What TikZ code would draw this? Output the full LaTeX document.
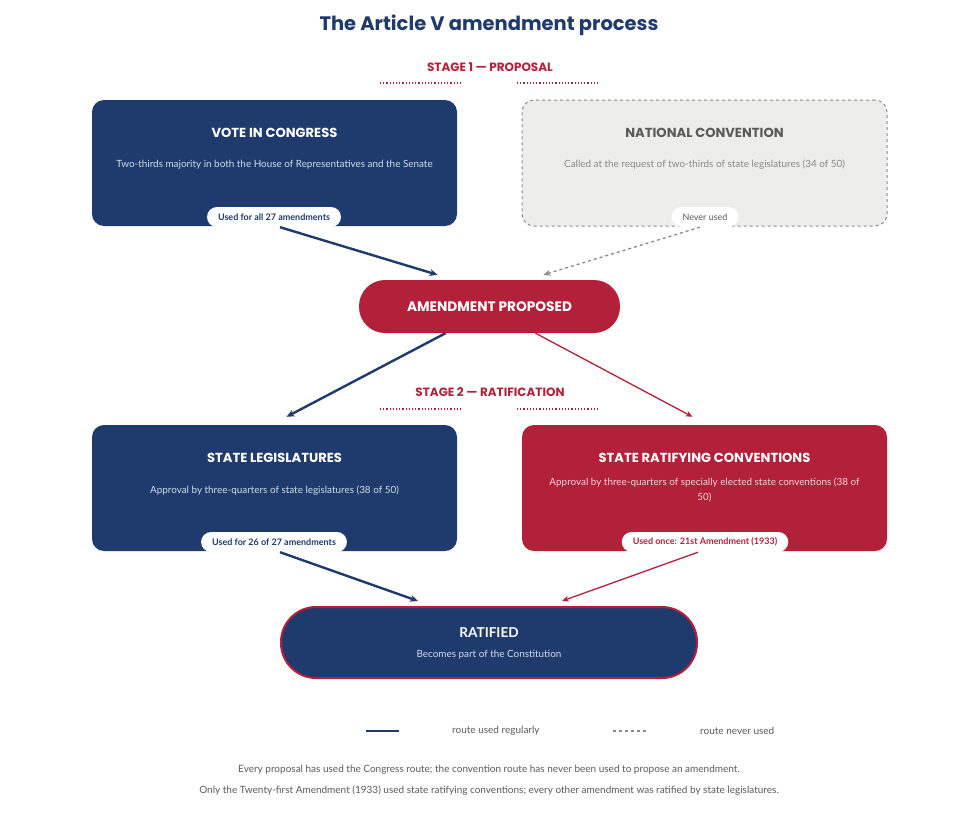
\documentclass[tikz,border=0pt]{standalone}
\usepackage{fontspec}
\setmainfont{Lato}
\newfontfamily\popp{Poppins}
\usetikzlibrary{arrows.meta}
\definecolor{navy}{HTML}{1F3A6D}
\definecolor{crim}{HTML}{B3203A}
\definecolor{paleblue}{HTML}{D3DBEA}
\definecolor{palered}{HTML}{F3D5DA}
\definecolor{gbox}{HTML}{EDEDEB}
\definecolor{gline}{HTML}{8A8A8A}
\definecolor{gtext}{HTML}{5A5A5A}
\tikzset{
  card/.style={rectangle, rounded corners=12pt, minimum width=365pt, minimum height=126pt, inner sep=0pt},
  cardtitle/.style={font=\popp\bfseries\fontsize{13.1}{15}\selectfont, inner sep=0pt},
  carddesc/.style={font=\fontsize{9.9}{15}\selectfont, inner sep=0pt, align=center},
  pill/.style={rectangle, rounded corners=10pt, fill=white, minimum height=20pt, inner xsep=11pt, inner ysep=0pt, font=\bfseries\fontsize{9}{11}\selectfont},
  stagelbl/.style={font=\popp\bfseries\fontsize{12}{14}\selectfont, text=crim, inner sep=0pt},
  stageline/.style={crim, line width=1.2pt, dotted},
  navyarrow/.style={navy, line width=2.4pt, -{Stealth[length=8pt,width=7pt]}},
  redarrow/.style={crim, line width=1.3pt, -{Stealth[length=7pt,width=6pt]}},
  grayarrow/.style={gline, line width=1.3pt, dashed, -{Stealth[length=7pt,width=6pt]}},
  foot/.style={font=\fontsize{10}{12}\selectfont, text=gtext, inner sep=0pt},
}
\begin{document}
\begin{tikzpicture}[x=1pt,y=-1pt]
\useasboundingbox (0,0) rectangle (979,812);
% title
\node[font=\popp\bfseries\fontsize{19.5}{23}\selectfont, text=navy, inner sep=0pt] (title) at (489,25) {The Article V amendment process};
% stage 1
\node[stagelbl] (s1) at (490,67) {STAGE 1 — PROPOSAL};
\coordinate (s1a) at (380,83); \coordinate (s1b) at (463,83);
\coordinate (s1c) at (517,83); \coordinate (s1d) at (600,83);
\draw[stageline] (s1a) -- (s1b);
\draw[stageline] (s1c) -- (s1d);
% congress
\node[card, fill=navy] (cong) at (274.5,163) {};
\node[cardtitle, text=white] (congT) at (274.5,133) {VOTE IN CONGRESS};
\node[carddesc, text=paleblue] (congD) at (274.5,165) {Two-thirds majority in both the House of Representatives and the Senate};
\node[pill, text=navy] (congP) at (274,217) {Used for all 27 amendments};
% convention
\node[card, fill=gbox, draw=gline, dashed, line width=1pt] (conv) at (704.5,163) {};
\node[cardtitle, text=gtext] (convT) at (704.5,133) {NATIONAL CONVENTION};
\node[carddesc, text=gline] (convD) at (704.5,165) {Called at the request of two-thirds of state legislatures (34 of 50)};
\node[pill, text=gtext, font=\fontsize{9}{11}\selectfont] (convP) at (705,217) {Never used};
% proposed
\node[rectangle, rounded corners=26pt, fill=crim, minimum width=261pt, minimum height=53pt, inner sep=0pt, text=white, font=\popp\bfseries\fontsize{13.7}{16}\selectfont] (prop) at (489.5,306.5) {AMENDMENT PROPOSED};
\draw[navyarrow] ([xshift=6pt]congP.south) -- ([shift={(-52,-5)}]prop.north);
\draw[grayarrow] ([xshift=-5pt]convP.south) -- ([shift={(54,-5)}]prop.north);
% stage 2
\node[stagelbl] (s2) at (490,392) {STAGE 2 — RATIFICATION};
\coordinate (s2a) at (380,409); \coordinate (s2b) at (463,409);
\coordinate (s2c) at (517,409); \coordinate (s2d) at (600,409);
\draw[stageline] (s2a) -- (s2b);
\draw[stageline] (s2c) -- (s2d);
% state legislatures
\node[card, fill=navy] (leg) at (274.5,488) {};
\node[cardtitle, text=white] (legT) at (274.5,458) {STATE LEGISLATURES};
\node[carddesc, text=paleblue] (legD) at (274.5,491) {Approval by three-quarters of state legislatures (38 of 50)};
\node[pill, text=navy] (legP) at (274,542) {Used for 26 of 27 amendments};
% state conventions
\node[card, fill=crim] (rc) at (704.5,488) {};
\node[cardtitle, text=white] (rcT) at (704.5,458) {STATE RATIFYING CONVENTIONS};
\node[carddesc, text=palered] (rcD) at (704.5,490) {Approval by three-quarters of specially elected state conventions (38 of\\50)};
\node[pill, text=crim] (rcP) at (705,542) {Used once: 21st Amendment (1933)};
\draw[navyarrow] ([xshift=-44pt]prop.south) -- ([shift={(12,-8)}]leg.north);
\draw[redarrow] ([xshift=46pt]prop.south) -- ([shift={(-12,-8)}]rc.north);
% ratified
\node[rectangle, rounded corners=35pt, fill=navy, draw=crim, line width=2pt, minimum width=416pt, minimum height=71pt, inner sep=0pt] (rat) at (489,642.5) {};
\node[font=\bfseries\fontsize{13.6}{16}\selectfont, text=white, inner sep=0pt] (ratT) at (489,633) {RATIFIED};
\node[carddesc, text=paleblue] (ratD) at (489,655) {Becomes part of the Constitution};
\draw[navyarrow] ([xshift=6pt]legP.south) -- ([shift={(-71,-5)}]rat.north);
\draw[redarrow] ([xshift=-7pt]rcP.south) -- ([shift={(73,-5)}]rat.north);
% legend
\coordinate (l1a) at (366,731); \coordinate (l1b) at (399,731);
\draw[navy, line width=2.4pt] (l1a) -- (l1b);
\node[foot, anchor=west] (l1t) at (452,731) {route used regularly};
\coordinate (l2a) at (613,731); \coordinate (l2b) at (646,731);
\draw[gline, line width=1.3pt, dashed] (l2a) -- (l2b);
\node[foot, anchor=west] (l2t) at (700,731) {route never used};
% footnotes
\node[foot] (f1) at (489,770) {Every proposal has used the Congress route; the convention route has never been used to propose an amendment.};
\node[foot] (f2) at (489,791) {Only the Twenty-first Amendment (1933) used state ratifying conventions; every other amendment was ratified by state legislatures.};
\end{tikzpicture}
\end{document}
